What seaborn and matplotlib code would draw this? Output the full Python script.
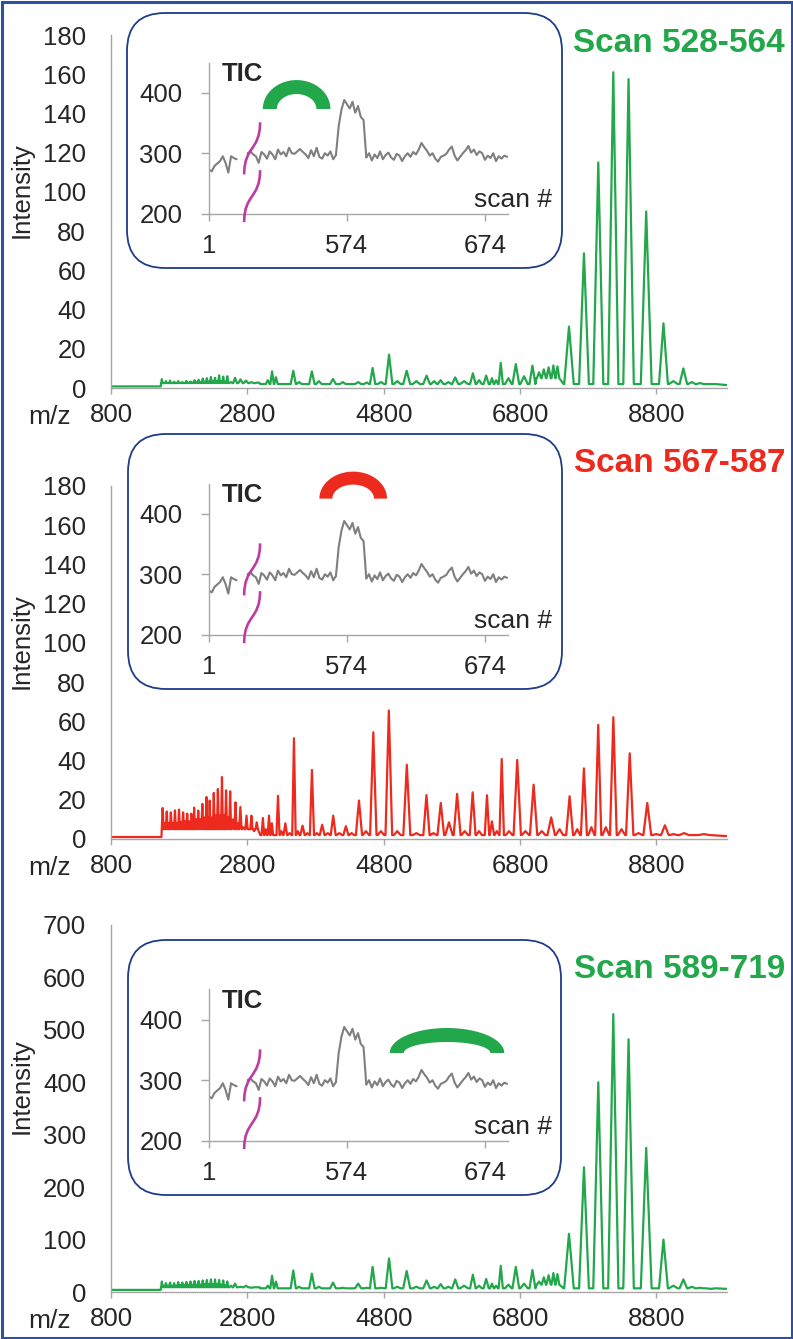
import numpy as np
import matplotlib
matplotlib.use("Agg")
import matplotlib.pyplot as plt
import seaborn as sns
from matplotlib.patches import FancyBboxPatch, Rectangle, Polygon, PathPatch
from matplotlib.path import Path

# ---------------- data ----------------
mz_ticks = [800, 2800, 4800, 6800, 8800]
mz_max = 9830

# green spectra share peak positions (scan 528-564 and scan 589-719)
green_mz = [1546, 1576, 1606, 1636, 1666, 1696, 1726, 1756, 1786, 1816,
            1846, 1876, 1906, 1936, 1966, 1996, 2026, 2056, 2086, 2116,
            2146, 2176, 2206, 2236, 2266, 2296, 2326, 2356, 2386, 2416,
            2446, 2476, 2506, 2560, 2620, 2700, 2780, 2860, 2950, 3100,
            3163, 3220, 3474, 3560, 3747, 3850, 4057, 4200, 4426, 4550,
            4638, 4760, 4879, 5000, 5138, 5280, 5430, 5540, 5636, 5750,
            5850, 5980, 6109, 6200, 6304, 6389, 6450, 6518, 6630, 6739,
            6860, 6983, 7080, 7150, 7220, 7290, 7350, 7519, 7739, 7949,
            8169, 8393, 8652, 8905, 9050, 9197, 9320, 9443, 9600]
green_a_int = [4.5, 2.5, 3.5, 2.5, 3.8, 2.5, 3.2, 2.5, 3.5, 2.6,
               3.0, 2.6, 3.6, 2.7, 3.3, 2.8, 4.0, 2.9, 4.2, 3.0,
               4.8, 3.2, 5.0, 3.3, 5.6, 3.4, 5.2, 3.5, 6.5, 3.4,
               5.8, 3.2, 6.0, 3.0, 5.2, 4.4, 3.8, 3.0, 2.8, 4.0,
               8.5, 5.5, 8.8, 3.0, 8.5, 3.5, 4.6, 3.0, 3.0, 2.8,
               10.2, 3.0, 17.0, 3.5, 8.8, 3.5, 6.3, 3.5, 4.0, 3.0,
               5.4, 3.5, 7.5, 4.0, 6.3, 5.0, 4.0, 12.8, 5.0, 12.2,
               6.0, 11.4, 8.0, 9.5, 10.5, 11.5, 11.0, 31.3, 68.7, 115.0,
               161.0, 157.5, 90.0, 33.0, 3.5, 10.0, 3.0, 2.5, 2.0]
green_b_int = [20, 12, 17, 12, 18, 12, 17, 12, 19, 13,
               18, 13, 19, 13, 20, 14, 21, 14, 21, 14,
               22, 15, 23, 15, 24, 15, 24, 15, 23, 14,
               22, 13, 20, 12, 16, 10, 12, 8, 9, 12,
               31, 20, 41, 10, 35, 10, 18, 8, 16, 8,
               48, 8, 64, 10, 40, 10, 22, 10, 15, 10,
               24, 12, 33, 12, 25, 16, 12, 50, 14, 48,
               16, 42, 20, 28, 32, 36, 34, 111, 238, 400,
               530, 482, 275, 100, 12, 24, 10, 8, 6]

red_mz = [1558, 1588, 1618, 1648, 1678, 1708, 1738, 1768, 1798, 1828,
          1858, 1888, 1918, 1948, 1978, 2000, 2020, 2050, 2080, 2110,
          2140, 2170, 2200, 2225, 2248, 2278, 2308, 2338, 2368, 2398,
          2428, 2458, 2488, 2518, 2548, 2588, 2626, 2660, 2698, 2740,
          2788, 2825, 2860, 2900, 2938, 3028, 3070, 3118, 3160, 3250,
          3300, 3358, 3420, 3484, 3540, 3610, 3680, 3748, 3820, 3898,
          3980, 4060, 4150, 4246, 4330, 4438, 4540, 4648, 4760, 4876,
          5000, 5140, 5280, 5428, 5530, 5638, 5758, 5878, 5990, 6106,
          6200, 6316, 6388, 6460, 6532, 6640, 6760, 6880, 7000, 7120,
          7258, 7380, 7528, 7640, 7738, 7848, 7948, 8060, 8170, 8290,
          8410, 8540, 8668, 8800, 8926, 9050, 9208, 9500]
red_int = [15.8, 8, 14, 8, 13.6, 8, 14.6, 8, 15, 8.5,
           13.6, 9, 12.9, 9, 12.9, 9, 16, 10, 14.5, 10,
           17.9, 11, 21.4, 11, 19.6, 11, 23.5, 12, 25.5, 12,
           31.6, 12, 24.8, 11, 24.3, 10, 18.7, 8, 16.3, 6,
           11.9, 5, 11.9, 4, 8.5, 10.7, 5, 11.9, 8, 22,
           4, 8, 3, 51.4, 4, 6.8, 3, 35.2, 3, 7.3,
           3, 11.9, 3, 6.5, 3, 19.6, 4, 54.4, 4, 65.5,
           4, 37.8, 3, 22.4, 3, 18.4, 8.5, 23, 4, 23.8,
           4, 22.3, 9, 4, 40.8, 4, 40.3, 4, 27.7, 4,
           11, 5, 21.8, 5, 36, 6, 58.2, 6, 62.1, 5,
           43.7, 3, 18.4, 2.5, 7, 2.5, 3, 2.5]

# baseline levels (m/z where the level starts, level)
green_a_base_mz = [800, 1530, 1536, 2990, 7040, 7440, 9830]
green_a_base = [0.8, 0.8, 2.5, 2.0, 5.0, 2.0, 1.5]
green_b_base_mz = [800, 1530, 1536, 2990, 7040, 7440, 9830]
green_b_base = [4, 4, 9, 7, 14, 7, 6]
red_base_mz = [800, 1540, 1546, 2990, 9830]
red_base = [1.0, 1.0, 5.0, 2.0, 1.5]

# total ion chromatogram in the insets (same in every panel)
tic_left_scans = [1, 3, 5, 7, 9, 11, 13, 15, 17, 19, 21]
tic_left = [273, 270, 279, 283, 287, 295, 284, 268, 295, 292, 290]
tic_pre_start = 502
tic_pre = [300, 303, 298, 295, 284, 302, 298, 291, 303, 298,
           290, 306, 298, 302, 295, 309, 300, 299, 303, 307,
           302, 298, 292, 305, 295, 309, 294, 291, 300, 296,
           303, 290, 297]
tic_peak_start = 568
tic_peak = [345, 372, 388, 381, 374, 385, 367, 378, 360, 355]
tic_post_start = 588
tic_post = [293, 300, 288, 298, 292, 303, 290, 297, 301, 293,
            289, 299, 296, 287, 295, 300, 294, 302, 298, 306,
            317, 310, 304, 296, 300, 291, 286, 294, 296, 299,
            306, 311, 296, 288, 294, 300, 305, 312, 301, 306,
            297, 303, 300, 289, 296, 292, 300, 287, 295, 291,
            296, 294]
scan_ticks = [1, 574, 674]
scan_break_shift = 473   # scans 1..21 are drawn just left of the axis break

titles = ["Scan 528-564", "Scan 567-587", "Scan 589-719"]
arc_spans = [(513, 562), (554, 603), (605, 688)]   # inset positions of the marker arcs
arc_levels = [373, 425, 345]

# ---------------- layout / style ----------------
W, H, DPI = 793, 1339, 100
GREEN = "#22A74B"
RED = "#EC2A1D"
NAVY = "#1F3C88"
GRAY = "#A6A6A6"
TIC_GRAY = "#7F7F7F"
MAGENTA = "#BE3CA0"

sns.set_style("white")
plt.rcParams["font.family"] = ["Liberation Sans", "DejaVu Sans"]


def frac_rect(left, top, right, bottom):
    return [left / W, 1 - bottom / H, (right - left) / W, (bottom - top) / H]


def spectrum_xy(mz, inten, base_mz, base_lv):
    # each listed peak becomes a narrow spike standing on the local baseline
    mz = np.asarray(mz, float)
    inten = np.asarray(inten, float)
    bm = np.asarray(base_mz, float)
    bl = np.asarray(base_lv, float)
    base = bl[np.searchsorted(bm, mz, side="right") - 1]
    gaps = np.diff(mz)
    near = np.minimum(np.r_[np.inf, gaps], np.r_[gaps, np.inf])
    hw = np.minimum(10 + 0.008 * mz, 0.45 * near)
    xs = np.column_stack([mz - hw, mz, mz + hw]).ravel()
    ys = np.column_stack([base, inten, base]).ravel()
    xs = np.r_[bm, xs]
    ys = np.r_[bl, ys]
    order = np.argsort(xs, kind="stable")
    return xs[order], ys[order]


panels = [
    dict(ax=(111, 35, 726.5, 388), box=(127, 13, 562, 268), ymax=180, ystep=20,
         color=GREEN, mz=green_mz, inten=green_a_int,
         base=(green_a_base_mz, green_a_base), arc_h=29, arc_t=14),
    dict(ax=(111, 486, 726.5, 839), box=(128, 434, 562, 689), ymax=180, ystep=20,
         color=RED, mz=red_mz, inten=red_int,
         base=(red_base_mz, red_base), arc_h=27, arc_t=13),
    dict(ax=(111, 925, 726.5, 1292), box=(128, 940, 561, 1195), ymax=700, ystep=100,
         color=GREEN, mz=green_mz, inten=green_b_int,
         base=(green_b_base_mz, green_b_base), arc_h=25, arc_t=14),
]

fig = plt.figure(figsize=(W / DPI, H / DPI), dpi=DPI)

for i, p in enumerate(panels):
    l, t, r, b = p["ax"]
    ax = fig.add_axes(frac_rect(l, t, r, b))
    xs, ys = spectrum_xy(p["mz"], p["inten"], *p["base"])
    sns.lineplot(x=xs, y=ys, ax=ax, color=p["color"], lw=1.6,
                 estimator=None, sort=False, legend=False)
    ax.set_xlim(800, mz_max)
    ax.set_ylim(0, p["ymax"])
    ax.set_xticks(mz_ticks)
    ax.set_yticks(np.arange(0, p["ymax"] + 1, p["ystep"]))
    ax.set_xlabel("")
    ax.set_ylabel("")
    for s in ["top", "right"]:
        ax.spines[s].set_visible(False)
    for s in ["left", "bottom"]:
        ax.spines[s].set_color(GRAY)
        ax.spines[s].set_linewidth(1.0)
    ax.tick_params(axis="y", left=False, length=0, pad=18, labelsize=18.5)
    ax.tick_params(axis="x", bottom=True, length=4, width=1, color=GRAY,
                   pad=7, labelsize=18.5)

    fig.text(50 / W, 1 - (b + 29) / H, "m/z", ha="center", va="center", fontsize=19)
    fig.text(22 / W, 1 - (t + 0.44 * (b - t)) / H, "Intensity", rotation=90,
             ha="center", va="center", fontsize=18.5)

    # rounded inset frame
    bl_, bt, br, bb = p["box"]
    frame = FancyBboxPatch((bl_ / DPI, (H - bb) / DPI), (br - bl_) / DPI, (bb - bt) / DPI,
                           boxstyle="round,pad=0,rounding_size=0.38",
                           transform=fig.dpi_scale_trans, fc="white", ec=NAVY,
                           lw=1.3, zorder=1)
    fig.add_artist(frame)

    fig.text(785 / W, 1 - (bt + 30) / H, titles[i], ha="right", va="center",
             fontsize=24, fontweight="bold", color=p["color"])

    # inset TIC trace
    il, it, ir, ib = 209, bt + 49.5, 508, bt + 200.7
    ins = fig.add_axes(frac_rect(il, it, ir, ib))
    ins.set_zorder(3)
    ins.patch.set_alpha(0)
    segs = [(np.asarray(tic_left_scans) + scan_break_shift, tic_left),
            (tic_pre_start + 2 * np.arange(len(tic_pre)), tic_pre),
            (tic_peak_start - 2 + 2 * np.arange(len(tic_peak) + 2),
             [tic_pre[-1]] + tic_peak + [tic_post[0]]),
            (tic_post_start + 2 * np.arange(len(tic_post)), tic_post)]
    for sx, sy in segs:
        sns.lineplot(x=sx, y=sy, ax=ins, color=TIC_GRAY, lw=1.5,
                     estimator=None, sort=False, legend=False)
    x0, x1 = 474, 690.7
    ins.set_xlim(x0, x1)
    ins.set_ylim(200, 450)
    ins.set_xticks([s + scan_break_shift if s < 100 else s for s in scan_ticks])
    ins.set_xticklabels([str(s) for s in scan_ticks])
    ins.set_yticks([200, 300, 400])
    ins.set_xlabel("")
    ins.set_ylabel("")
    for s in ["top", "right"]:
        ins.spines[s].set_visible(False)
    for s in ["left", "bottom"]:
        ins.spines[s].set_color(GRAY)
        ins.spines[s].set_linewidth(1.0)
    ins.tick_params(axis="y", left=True, length=6, width=1, color=GRAY, pad=13,
                    labelsize=18.5)
    ins.tick_params(axis="x", bottom=True, length=5, width=1, color=GRAY, pad=9.5,
                    labelsize=18.5)

    fig.text(222 / W, 1 - (bt + 61) / H, "TIC", ha="left", va="center",
             fontsize=18.5, fontweight="bold")
    fig.text(552 / W, 1 - (bt + 187) / H, "scan #", ha="right", va="center",
             fontsize=19)

    # marker arc over the summed scan range
    pxx = (ir - il) / (x1 - x0)
    pxy = (ib - it) / 250.0
    a0, a1 = arc_spans[i]
    xc, a = (a0 + a1) / 2, (a1 - a0) / 2
    bo = p["arc_h"] / pxy
    ai = a - p["arc_t"] / pxx
    bi = bo - p["arc_t"] / pxy
    th = np.linspace(0, np.pi, 60)
    outer = np.column_stack([xc + a * np.cos(th), arc_levels[i] + bo * np.sin(th)])
    inner = np.column_stack([xc + ai * np.cos(th[::-1]), arc_levels[i] + bi * np.sin(th[::-1])])
    ins.add_patch(Polygon(np.vstack([outer, inner]), closed=True, fc=p["color"],
                          ec="none", clip_on=False, zorder=4))

    # axis break marks
    bx0, bx1 = 499.5, 511
    for ylo in (265, 186):
        dy = 86
        path = Path([(bx0, ylo), (bx0, ylo + 0.55 * dy), (bx1, ylo + 0.45 * dy), (bx1, ylo + dy)],
                    [Path.MOVETO, Path.CURVE4, Path.CURVE4, Path.CURVE4])
        ins.add_patch(PathPatch(path, fc="none", ec=MAGENTA, lw=1.9, clip_on=False, zorder=5))

# outer frame of the figure
fig.add_artist(Rectangle((0.015, 0.015), (W - 3) / DPI, (H - 3) / DPI,
                         transform=fig.dpi_scale_trans, fill=False, ec="#2F509E", lw=2.2))

fig.savefig("out.png", dpi=DPI)
